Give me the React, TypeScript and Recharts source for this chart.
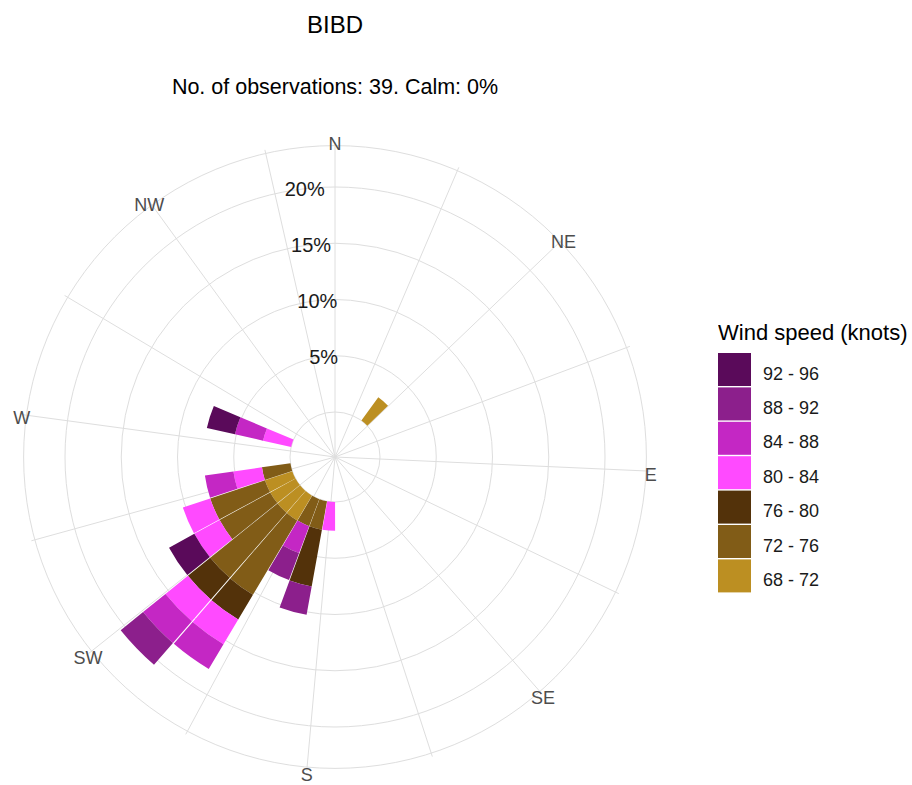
import React from 'react';
import {
  RadialBarChart,
  RadialBar,
  PolarGrid,
  PolarAngleAxis,
  PolarRadiusAxis,
  Legend,
} from 'recharts';

const FONT = '"Liberation Sans", Arial, Helvetica, sans-serif';

// wind direction bins (degrees) that have observations
const directions = [40, 180, 190, 200, 210, 220, 230, 240, 250, 280];

// frequency (%) of each speed band per direction (39 obs, one obs = 2.56%)
const speed68to72 = [2.56, 0, 0, 0, 2.56, 2.56, 2.56, 2.56, 0, 0];
const speed72to76 = [0, 0, 2.56, 2.56, 7.69, 7.69, 5.13, 5.13, 2.56, 0];
const speed76to80 = [0, 0, 5.13, 0, 2.56, 2.56, 0, 0, 0, 0];
const speed80to84 = [0, 2.56, 0, 0, 2.56, 2.56, 2.56, 2.56, 2.56, 2.56];
const speed84to88 = [0, 0, 0, 2.56, 2.56, 2.56, 0, 0, 2.56, 2.56];
const speed88to92 = [0, 0, 2.56, 2.56, 0, 2.56, 0, 0, 0, 0];
const speed92to96 = [0, 0, 0, 0, 0, 0, 2.56, 0, 0, 2.56];

const bandValues = [speed68to72, speed72to76, speed76to80, speed80to84, speed84to88, speed88to92, speed92to96];
const bandLabels = ['68 - 72', '72 - 76', '76 - 80', '80 - 84', '84 - 88', '88 - 92', '92 - 96'];
const bandColors = ['#BC8F22', '#815C17', '#53320A', '#FF4AFF', '#C427C4', '#8C1F8C', '#5A0A5A'];

// axis setup: direction scale runs 0..350 round the full circle, radius has a hole in the middle
const DIR_MAX = 350;
const PCT_HOLE = -3.95;
const PCT_MAX = 23.68;
const compassDirs = [0, 22.5, 45, 67.5, 90, 112.5, 135, 157.5, 180, 202.5, 225, 247.5, 270, 292.5, 315, 337.5];
const compassLabels = ['N', '', 'NE', '', 'E', '', 'SE', '', 'S', '', 'SW', '', 'W', '', 'NW', ''];
const pctTicks = [0, 5, 10, 15, 20, PCT_MAX];
const pctLabelDir = 343.75;

const data = directions.map((dir, i) => {
  const row: Record<string, number> = { dir };
  bandValues.forEach((vals, b) => {
    row[`band${b}`] = vals[i];
  });
  return row;
});

const CompassTick = (props: any) => {
  const { x, y, payload } = props;
  const label = compassLabels[compassDirs.indexOf(payload.value)];
  if (!label) return null;
  return (
    <text x={x} y={y + 3} dy="0.36em" textAnchor="middle" fontSize={18} fill="#4d4d4d" fontFamily={FONT}>
      {label}
    </text>
  );
};

const PctTick = (props: any) => {
  const { x, y, payload } = props;
  const v = payload.value;
  if (v <= 0 || v > 20) return null;
  return (
    <text x={x} y={y} dy="0.36em" textAnchor="middle" fontSize={20} fill="#1a1a1a" fontFamily={FONT}>
      {v}%
    </text>
  );
};

// legend: highest band on top, like the original
const WindLegend = () => (
  <svg width={194} height={290} style={{ display: 'block' }}>
    <text x={0} y={22} fontSize={22} fill="#000" fontFamily={FONT}>
      Wind speed (knots)
    </text>
    {bandLabels
      .map((label, i) => ({ label, color: bandColors[i] }))
      .reverse()
      .map((item, i) => (
        <g key={item.label}>
          <rect x={0} y={35 + i * 34.4} width={33} height={33} fill={item.color} />
          <text x={45} y={61.5 + i * 34.4} fontSize={18} fill="#1a1a1a" fontFamily={FONT}>
            {item.label}
          </text>
        </g>
      ))}
  </svg>
);

export default function App() {
  return (
    <div style={{ position: 'absolute', left: 0, top: 0, width: 912, height: 785, background: '#fff' }}>
      <RadialBarChart
        width={912}
        height={785}
        data={data}
        layout="centric"
        cx={335}
        cy={457}
        innerRadius={0}
        outerRadius={315}
        startAngle={90}
        endAngle={-270}
        barCategoryGap="3.5%"
        margin={{ top: 0, right: 0, bottom: 0, left: 0 }}
        style={{ fontFamily: FONT }}
      >
        {/* grid: circles every 5%, spokes every 22.5 degrees */}
        <PolarGrid gridType="circle" stroke="#dedede" angleAxisId="compass" />
        {/* axis the bars sit on: one band per 10 degree bin */}
        <PolarAngleAxis
          angleAxisId="bars"
          type="number"
          dataKey="dir"
          domain={[0, DIR_MAX]}
          allowDataOverflow
          axisLine={false}
          tickLine={false}
          tick={false}
        />
        {/* same scale, used for the compass spokes and labels */}
        <PolarAngleAxis
          angleAxisId="compass"
          type="number"
          dataKey="dir"
          domain={[0, DIR_MAX]}
          allowDataOverflow
          ticks={compassDirs}
          axisLine={false}
          tickLine={false}
          tickSize={1}
          tick={CompassTick}
        />
        <PolarRadiusAxis
          type="number"
          domain={[PCT_HOLE, PCT_MAX]}
          allowDataOverflow
          ticks={pctTicks}
          angle={90 - (pctLabelDir / DIR_MAX) * 360}
          axisLine={false}
          tickLine={false}
          tick={PctTick}
        />
        {bandLabels.map((label, b) => (
          <RadialBar
            key={label}
            angleAxisId="bars"
            dataKey={`band${b}`}
            name={label}
            stackId="speed"
            fill={bandColors[b]}
            isAnimationActive={false}
          />
        ))}
        <Legend
          layout="vertical"
          align="right"
          verticalAlign="top"
          wrapperStyle={{ left: 718, top: 318, right: 'auto' }}
          content={() => <WindLegend />}
        />
        <text x={335} y={33} textAnchor="middle" fontSize={24} fill="#000" fontFamily={FONT}>
          BIBD
        </text>
        <text x={335} y={93.5} textAnchor="middle" fontSize={21.5} fill="#000" fontFamily={FONT}>
          No. of observations: 39. Calm: 0%
        </text>
      </RadialBarChart>
    </div>
  );
}
